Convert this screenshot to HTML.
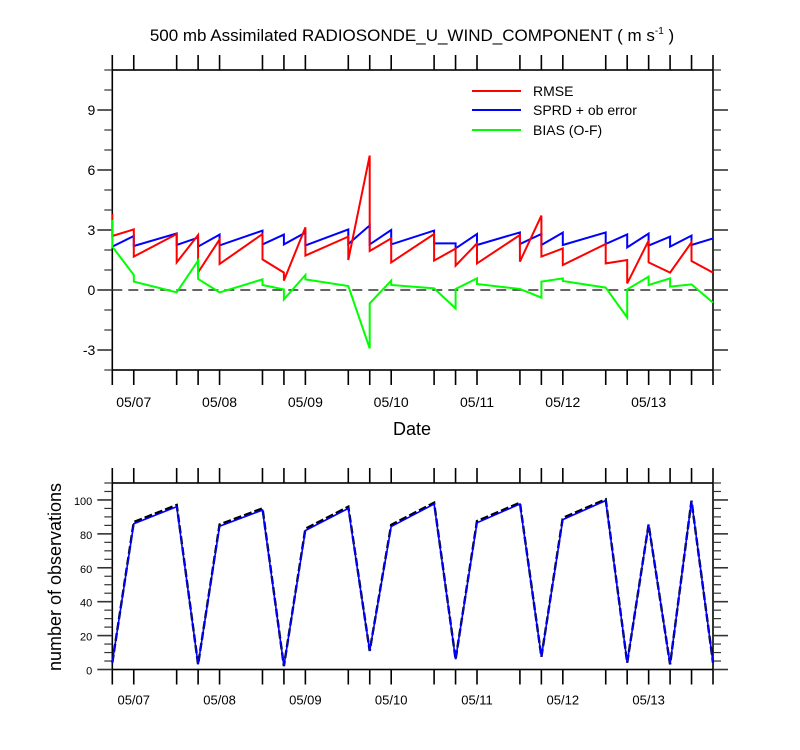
<!DOCTYPE html>
<html><head><meta charset="utf-8">
<style>
html,body{margin:0;padding:0;background:#fff;}
svg{display:block;font-family:"Liberation Sans",Arial,sans-serif;}
</style></head>
<body>
<svg id="chart" width="800" height="750" viewBox="0 0 800 750" xmlns="http://www.w3.org/2000/svg">
<rect x="0" y="0" width="800" height="750" fill="#fff"/>
<text x="412" y="41" font-size="17" text-anchor="middle">500 mb Assimilated RADIOSONDE_U_WIND_COMPONENT ( m s<tspan font-size="10" dy="-7">-1</tspan><tspan dy="7"> )</tspan></text>
<g id="topPanel"></g>
<g id="botPanel"></g>
<text x="412" y="435" font-size="18" text-anchor="middle">Date</text>
<text transform="translate(61,577) rotate(-90)" font-size="18" text-anchor="middle">number of observations</text>
<g>
<line x1="472" y1="91" x2="521" y2="91" stroke="#ff0000" stroke-width="2"/>
<text x="533" y="96" font-size="14">RMSE</text>
<line x1="472" y1="110" x2="521" y2="110" stroke="#0000ff" stroke-width="2"/>
<text x="533" y="115" font-size="14">SPRD + ob error</text>
<line x1="472" y1="130" x2="521" y2="130" stroke="#00ff00" stroke-width="2"/>
<text x="533" y="135" font-size="14">BIAS (O-F)</text>
</g>
</svg>
<script>
// data steps (6-hourly, 0 = 05/06 18Z)
const steps = [0,1,3,4,5,7,8,9,11,12,13,15,16,17,19,20,21,23,24,25,26,27,28];
const dateLabels = ["05/07","05/08","05/09","05/10","05/11","05/12","05/13"];
const dateSteps = [1,5,9,13,17,21,25];
// each step has incoming and outgoing value
const rmseIn  = [3.8,3.03,2.8,2.75,2.53,2.8,0.87,3.13,2.67,6.72,2.58,2.8,2.07,2.33,2.75,3.72,2.08,2.3,1.5,2.47,0.87,2.38,0.87];
const rmseOut = [2.7,1.67,1.38,0.88,1.3,1.53,0.47,1.72,1.5,1.95,1.38,1.47,1.22,1.33,1.42,1.67,1.25,1.33,0.33,1.38,0.87,1.45,0.87];
const sprdIn  = [2.17,2.7,2.83,2.62,2.77,2.97,2.77,2.87,3.03,3.23,3.0,2.97,2.33,2.8,2.88,2.8,2.87,2.88,2.78,2.82,2.67,2.72,2.58];
const sprdOut = [2.17,2.2,2.25,2.17,2.23,2.28,2.28,2.23,2.3,2.28,2.28,2.33,2.08,2.25,2.3,2.25,2.25,2.3,2.13,2.22,2.17,2.25,2.58];
const biasIn  = [3.5,0.75,-0.12,1.47,-0.12,0.53,0.03,0.75,0.2,-2.92,0.47,0.08,-0.92,0.58,0.05,-0.38,0.58,0.12,-1.38,0.67,0.58,0.28,-0.63];
const biasOut = [2.17,0.42,-0.12,0.55,-0.12,0.25,-0.47,0.53,0.2,-0.67,0.25,0.08,0.05,0.3,0.05,0.42,0.45,0.12,0.03,0.25,0.17,0.28,-0.63];
const obsUsed  = [4,86,96,3,84.5,94,2,82,95,11,84.3,97.6,6,86.5,97.6,7.5,88.4,99.6,4,85.5,3,99.6,4];
const obsTotal = [4,87,97,3,85.5,95,2,83,96,11,85.3,98.4,6,87.5,98.4,7.5,89.4,100.3,4,85.5,3,99.6,4];
const topTicks = [-3,0,3,6,9];
const botTicks = [0,20,40,60,80,100];

const NS="http://www.w3.org/2000/svg";
const X0=112.3, X1=713, NSTEP=28;
const xs = s => X0 + s*(X1-X0)/NSTEP;
const TP={top:70,bot:370,min:-4,max:11};
const BP={top:483,bot:669.5,min:0,max:110};
const yT = v => TP.bot - (v-TP.min)*(TP.bot-TP.top)/(TP.max-TP.min);
const yB = v => BP.bot - (v-BP.min)*(BP.bot-BP.top)/(BP.max-BP.min);
function mk(tag,attrs,parent){const e=document.createElementNS(NS,tag);for(const k in attrs)e.setAttribute(k,attrs[k]);parent.appendChild(e);return e;}
const topG=document.getElementById('topPanel'), botG=document.getElementById('botPanel');

function frame(g,P,yf,ticks,minorStep,fs,dfs,dOff,lOff){
  let r=mk('rect',{x:X0,y:P.top,width:X1-X0,height:P.bot-P.top,fill:'none',stroke:'#000','stroke-width':1.6},g);
  
  
  steps.forEach(s=>{
    const x=xs(s);
    let t1=mk('line',{x1:x,y1:P.top,x2:x,y2:P.top-15,stroke:'#000','stroke-width':1.6},g);
    
    
    let t2=mk('line',{x1:x,y1:P.bot,x2:x,y2:P.bot+15,stroke:'#000','stroke-width':1.6},g);
    
    
  });
  dateLabels.forEach((d,i)=>{
    let t=mk('text',{x:xs(dateSteps[i]),y:P.bot+dOff,'font-size':dfs,'text-anchor':'middle'},g);
    t.textContent=d;
    
    
  });
  for(let v=P.min; v<=P.max+1e-6; v+=minorStep){
    const y=yf(v); const major=ticks.includes(Math.round(v*100)/100);
    const len=major?15:8;
    let a=mk('line',{x1:X0-len,y1:y,x2:X0,y2:y,stroke:'#333','stroke-width':major?1.6:1.2},g);
    
    
    let b=mk('line',{x1:X1,y1:y,x2:X1+len,y2:y,stroke:'#333','stroke-width':major?1.6:1.2},g);
    
    
  }
  ticks.forEach(v=>{
    let t=mk('text',{x:X0-lOff,y:yf(v)+5,'font-size':fs,'text-anchor':'end'},g);
    t.textContent=String(v);
    
    
  });
}
frame(topG,TP,yT,topTicks,1,14,14,37,17);
frame(botG,BP,yB,botTicks,5,11,13,35,20);

let z=mk('line',{x1:X0,y1:yT(0),x2:X1,y2:yT(0),stroke:'#333','stroke-width':1.6,'stroke-dasharray':'10,6'},topG);



function pairPath(inV,outV){
  let d='';
  steps.forEach((s,i)=>{
    d+=(i?'L':'M')+xs(s).toFixed(1)+','+yT(inV[i]).toFixed(1)+'L'+xs(s).toFixed(1)+','+yT(outV[i]).toFixed(1);
  });
  return d;
}
let p1=mk('path',{d:pairPath(sprdIn,sprdOut),fill:'none',stroke:'#0000ff','stroke-width':2},topG);


let p2=mk('path',{d:pairPath(rmseIn,rmseOut),fill:'none',stroke:'#ff0000','stroke-width':2},topG);


let p3=mk('path',{d:pairPath(biasIn,biasOut),fill:'none',stroke:'#00ff00','stroke-width':2},topG);



function simplePath(vals){return steps.map((s,i)=>(i?'L':'M')+xs(s).toFixed(1)+','+yB(vals[i]).toFixed(1)).join('');}
let q1=mk('path',{d:simplePath(obsTotal),fill:'none',stroke:'#000','stroke-width':2.4,'stroke-dasharray':'8,3'},botG);


let q2=mk('path',{d:simplePath(obsUsed),fill:'none',stroke:'#0000ff','stroke-width':1.6},botG);


</script>
</body></html>
